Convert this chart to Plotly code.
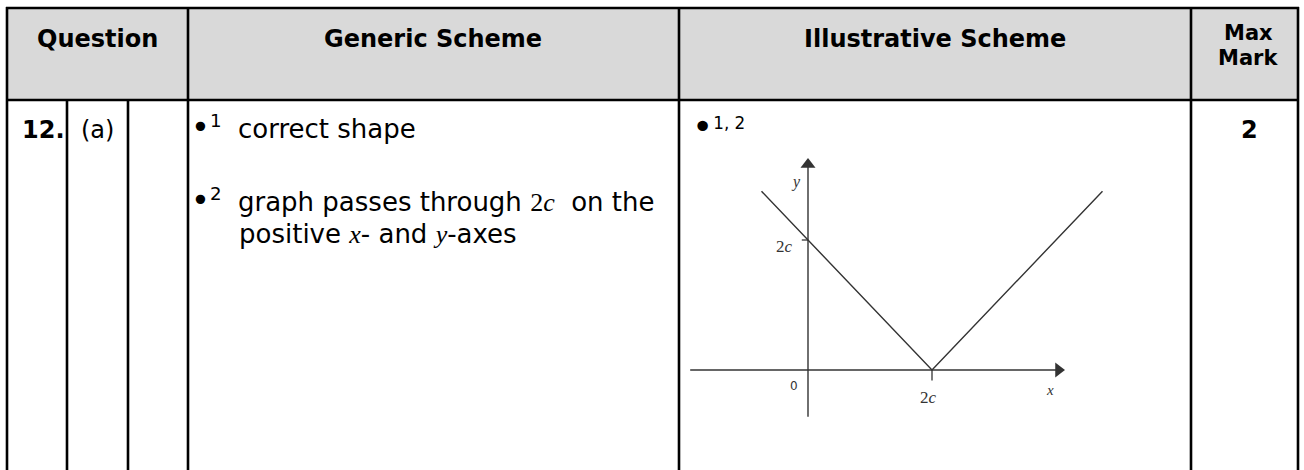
import plotly.graph_objects as go

W, H = 1304, 470

# ---------------- data ----------------
headers = ["Question", "Generic Scheme", "Illustrative Scheme", "Max", "Mark"]
question_no = "12."
question_part = "(a)"
MATH = "<span style='font-family:Liberation Serif'>"
BUL = "<span style='font-size:32px'>•</span>"
generic_lines = [
    BUL + "<sup>1</sup>&nbsp;&nbsp;correct shape",
    BUL + "<sup>2</sup>&nbsp;&nbsp;graph passes through&nbsp;" + MATH + "2<i>c</i></span>&nbsp; on the",
    "positive " + MATH + "<i>x</i></span>- and " + MATH + "<i>y</i></span>-axes",
]
illustrative_label = "<span style='font-size:36px'>•</span><sup>1, 2</sup>"
max_mark = "2"

# graph of y = |x - 2c| with c = 1
graph_x = [-0.75, 2.0, 4.75]
graph_y = [2.75, 0.0, 2.75]
x_axis_span = [-1.9, 4.15]
y_axis_span = [-0.72, 3.26]
x_tick = [2.0]
y_tick = [2.0]

# ---------------- layout helpers ----------------
def X(p):
    return p / W

def Y(p):
    return 1 - p / H

FONT = "DejaVu Sans"
fig = go.Figure()

shapes = []
shapes.append(dict(type="rect", xref="paper", yref="paper", x0=X(7), x1=X(1298), y0=Y(100), y1=Y(8),
                   fillcolor="#d9d9d9", line=dict(width=0), layer="below"))
LW = 2.6
def hline(y, x0, x1):
    shapes.append(dict(type="line", xref="paper", yref="paper", x0=X(x0), x1=X(x1), y0=Y(y), y1=Y(y),
                       line=dict(color="black", width=LW)))
def vline(x, y0, y1):
    shapes.append(dict(type="line", xref="paper", yref="paper", x0=X(x), x1=X(x), y0=Y(y0), y1=Y(y1),
                       line=dict(color="black", width=LW)))

hline(8, 6, 1299)
hline(100, 6, 1299)
for xv in [7, 188, 679, 1191, 1298]:
    vline(xv, 7, 472)
for xv in [67, 128]:
    vline(xv, 100, 472)

ann = []
def txt(x, y, s, size=26, bold=False, xanchor="center", family=FONT, color="black"):
    if bold:
        s = "<b>" + s + "</b>"
    ann.append(dict(xref="paper", yref="paper", x=X(x), y=Y(y), text=s, showarrow=False,
                    xanchor=xanchor, yanchor="middle", align="left",
                    font=dict(family=family, size=size, color=color)))

txt(97, 39, headers[0], size=24, bold=True)
txt(433, 39, headers[1], size=24, bold=True)
txt(935, 39, headers[2], size=24, bold=True)
txt(1248, 33, headers[3], size=21, bold=True)
txt(1248, 58, headers[4], size=21, bold=True)

txt(20, 130, question_no, size=24, bold=True, xanchor="left")
txt(97, 130, question_part, size=24)
txt(1249, 130, max_mark, size=24, bold=True)

txt(189, 127, generic_lines[0], xanchor="left")
txt(189, 200, generic_lines[1], xanchor="left")
txt(237, 234, generic_lines[2], xanchor="left")

txt(690, 126, illustrative_label, size=24, xanchor="left")

# ---------------- inset graph ----------------
LC = "#333333"
def seg(xs, ys, w=1.4):
    fig.add_trace(go.Scatter(x=xs, y=ys, mode="lines", line=dict(color=LC, width=w),
                             hoverinfo="skip", showlegend=False))

seg(graph_x, graph_y)
seg([x_tick[0], x_tick[0]], [0, -0.16], 1.3)
seg([-0.1, 0], [y_tick[0], y_tick[0]], 1.3)
seg([0, 0], [y_axis_span[0], y_axis_span[1] - 0.1])
seg([x_axis_span[0], x_axis_span[1] - 0.1], [0, 0])
# arrowheads
fig.add_trace(go.Scatter(x=[x_axis_span[1] - 0.11], y=[0], mode="markers",
                         marker=dict(symbol="triangle-right", size=13, color=LC, line=dict(width=0)),
                         hoverinfo="skip", showlegend=False))
fig.add_trace(go.Scatter(x=[0], y=[y_axis_span[1] - 0.1], mode="markers",
                         marker=dict(symbol="triangle-up", size=13, color=LC, line=dict(width=0)),
                         hoverinfo="skip", showlegend=False))

SERIF = "Liberation Serif"
def gtxt(x, y, s, size=16, family=SERIF):
    ann.append(dict(xref="x", yref="y", x=x, y=y, text=s, showarrow=False, xanchor="center",
                    yanchor="middle", font=dict(family=family, size=size, color=LC)))

gtxt(-0.2, 2.9, "<i>y</i>")
gtxt(-0.22, -0.25, "0", size=12, family=FONT)
gtxt(3.9, -0.3, "<i>x</i>", size=15)
gtxt(x_tick[0] - 0.05, -0.43, "2<i>c</i>", size=17)
gtxt(-0.38, y_tick[0] - 0.1, "2<i>c</i>", size=17)

x0p, x1p = 680, 1190
y0p, y1p = 102, 470
ppx, ppy = 62.0, 65.0
orig_x, orig_y = 808, 370
fig.update_layout(
    width=W, height=H,
    margin=dict(l=0, r=0, t=0, b=0),
    paper_bgcolor="white", plot_bgcolor="rgba(0,0,0,0)",
    shapes=shapes, annotations=ann,
    xaxis=dict(domain=[X(x0p), X(x1p)], range=[(x0p - orig_x) / ppx, (x1p - orig_x) / ppx],
               visible=False, fixedrange=True),
    yaxis=dict(domain=[Y(y1p), Y(y0p)], range=[(orig_y - y1p) / ppy, (orig_y - y0p) / ppy],
               visible=False, fixedrange=True),
    showlegend=False,
)
fig.write_html("out.html", config={"displayModeBar": False},
               post_script="document.body.style.margin='0';document.body.style.overflow='hidden';")
